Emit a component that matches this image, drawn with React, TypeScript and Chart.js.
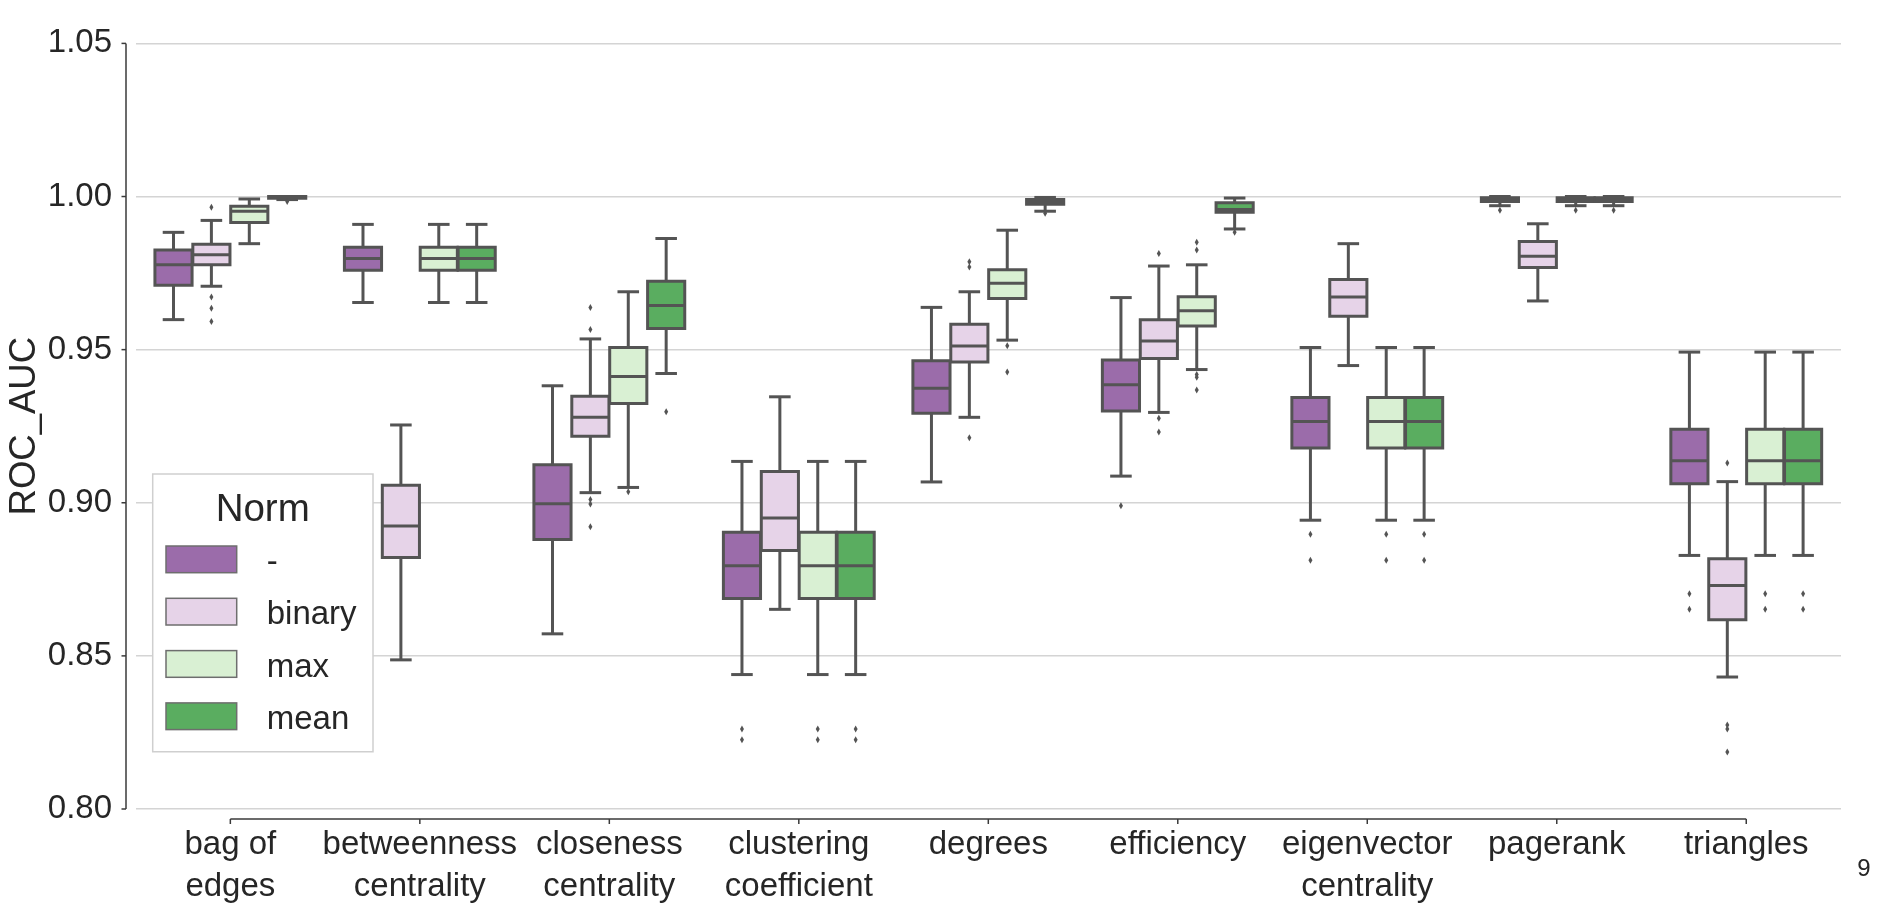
import React, { useEffect, useRef } from "react";
import { Chart, registerables } from "chart.js";

Chart.register(...registerables);

// ---------------- data ----------------
const categories: (string | string[])[] = [
  ["bag of", "edges"],
  ["betweenness", "centrality"],
  ["closeness", "centrality"],
  ["clustering", "coefficient"],
  "degrees",
  "efficiency",
  ["eigenvector", "centrality"],
  "pagerank",
  "triangles",
];

const hueLevels = ["-", "binary", "max", "mean"];

const yTicks = [0.8, 0.85, 0.9, 0.95, 1.0, 1.05];

// [whiskerLow, q1, median, q3, whiskerHigh] per category
const noneBoxes = [
  [0.9598, 0.971, 0.9777, 0.9825, 0.9883],
  [0.9654, 0.9759, 0.9798, 0.9834, 0.9909],
  [0.8572, 0.888, 0.8997, 0.9124, 0.9382],
  [0.8439, 0.8687, 0.8794, 0.8904, 0.9135],
  [0.9068, 0.9292, 0.9374, 0.9464, 0.9638],
  [0.9087, 0.93, 0.9385, 0.9466, 0.967],
  [0.8943, 0.9179, 0.9265, 0.9344, 0.9507],
  [0.997, 0.9984, 0.9992, 0.9996, 1.0],
  [0.8828, 0.9062, 0.9137, 0.924, 0.9492],
];
const binaryBoxes = [
  [0.9707, 0.9777, 0.981, 0.9844, 0.9922],
  [0.8487, 0.8821, 0.8924, 0.9057, 0.9254],
  [0.9033, 0.9217, 0.9279, 0.9348, 0.9535],
  [0.8652, 0.8844, 0.895, 0.9102, 0.9346],
  [0.9279, 0.946, 0.9512, 0.9583, 0.9689],
  [0.9295, 0.9471, 0.9528, 0.9598, 0.9773],
  [0.9448, 0.9609, 0.9672, 0.9729, 0.9846],
  [0.9659, 0.9768, 0.9805, 0.9853, 0.9911],
  [0.8431, 0.8618, 0.873, 0.8817, 0.9069],
];
const maxBoxes = [
  [0.9846, 0.9915, 0.9952, 0.9968, 0.9992],
  [0.9654, 0.9759, 0.9798, 0.9834, 0.9909],
  [0.905, 0.9324, 0.9412, 0.9507, 0.9689],
  [0.8439, 0.8687, 0.8794, 0.8904, 0.9135],
  [0.9531, 0.9667, 0.9717, 0.9761, 0.989],
  [0.9435, 0.9577, 0.9627, 0.9673, 0.9777],
  [0.8943, 0.9179, 0.9265, 0.9344, 0.9507],
  [0.997, 0.9984, 0.9992, 0.9996, 1.0],
  [0.8828, 0.9062, 0.9137, 0.924, 0.9492],
];
const meanBoxes = [
  [0.999, 0.9994, 0.9998, 1.0, 1.0],
  [0.9654, 0.9759, 0.9798, 0.9834, 0.9909],
  [0.9422, 0.9569, 0.9644, 0.9723, 0.9863],
  [0.8439, 0.8687, 0.8794, 0.8904, 0.9135],
  [0.9952, 0.9975, 0.9983, 0.999, 0.9997],
  [0.9894, 0.9949, 0.9958, 0.998, 0.9995],
  [0.8943, 0.9179, 0.9265, 0.9344, 0.9507],
  [0.997, 0.9984, 0.9992, 0.9996, 1.0],
  [0.8828, 0.9062, 0.9137, 0.924, 0.9492],
];

const noneOutliers = [
  [], [], [], [0.8261, 0.8226], [], [0.899], [0.8897, 0.8812], [0.9955], [0.8703, 0.8652],
];
const binaryOutliers = [
  [0.9965, 0.9672, 0.9635, 0.9592],
  [],
  [0.9638, 0.9566, 0.9011, 0.8996, 0.8922],
  [],
  [0.9787, 0.977, 0.9212],
  [0.9814, 0.9276, 0.9231],
  [],
  [],
  [0.913, 0.8274, 0.8261, 0.8186],
];
const maxOutliers = [
  [], [], [0.9036], [0.8261, 0.8226], [0.9513, 0.9427],
  [0.9851, 0.9825, 0.9419, 0.941, 0.9368], [0.8897, 0.8812], [0.9955], [0.8703, 0.8652],
];
const meanOutliers = [
  [0.9984], [], [0.9297], [0.8261, 0.8226], [0.9945], [0.9883], [0.8897, 0.8812], [0.9955], [0.8703, 0.8652],
];

// ---------------- styles ----------------
const hueColors = ["#9b6caa", "#e6d3e8", "#d9f0d3", "#5aad60"];
const EDGE = "#545454";
const TEXT = "#262626";
const FONT = "'Liberation Sans', Arial, sans-serif";

const allBoxes = [noneBoxes, binaryBoxes, maxBoxes, meanBoxes];
const allOutliers = [noneOutliers, binaryOutliers, maxOutliers, meanOutliers];

const boxPlugin = {
  id: "boxDetails",
  afterDatasetsDraw(chart: any) {
    const ctx = chart.ctx;
    const ys = chart.scales.y;
    ctx.save();
    ctx.strokeStyle = EDGE;
    ctx.fillStyle = EDGE;
    ctx.lineWidth = 3;
    ctx.lineCap = "butt";
    ctx.lineJoin = "miter";
    const line = (x1: number, y1: number, x2: number, y2: number) => {
      ctx.beginPath();
      ctx.moveTo(x1, y1);
      ctx.lineTo(x2, y2);
      ctx.stroke();
    };
    chart.data.datasets.forEach((_ds: any, di: number) => {
      const meta = chart.getDatasetMeta(di);
      const boxes = allBoxes[di];
      const outs = allOutliers[di];
      meta.data.forEach((el: any, ci: number) => {
        const x = el.x;
        const w = el.width;
        const [lo, q1, med, q3, hi] = boxes[ci].map((v: number) => ys.getPixelForValue(v));
        // whiskers
        line(x, q3, x, hi);
        line(x, q1, x, lo);
        const half = w * 0.25 + 1.5;
        line(x - half, hi, x + half, hi);
        line(x - half, lo, x + half, lo);
        // box outline
        ctx.beginPath();
        ctx.rect(x - w / 2, q3, w, q1 - q3);
        ctx.stroke();
        // median
        line(x - w / 2, med, x + w / 2, med);
        // outliers (thin diamonds)
        outs[ci].forEach((v: number) => {
          const py = ys.getPixelForValue(v);
          ctx.beginPath();
          ctx.moveTo(x, py - 3.5);
          ctx.lineTo(x + 2, py);
          ctx.lineTo(x, py + 3.5);
          ctx.lineTo(x - 2, py);
          ctx.closePath();
          ctx.fill();
        });
      });
    });
    ctx.restore();
  },
};

const spinePlugin = {
  id: "spines",
  afterDraw(chart: any) {
    const ctx = chart.ctx;
    const ys = chart.scales.y;
    const xs = chart.scales.x;
    const area = chart.chartArea;
    ctx.save();
    ctx.strokeStyle = "#3a3a3a";
    ctx.lineWidth = 1.5;
    // y spine (offset)
    const sx = area.left - 9.6;
    ctx.beginPath();
    ctx.moveTo(sx, ys.getPixelForValue(yTicks[yTicks.length - 1]));
    ctx.lineTo(sx, ys.getPixelForValue(yTicks[0]));
    ctx.stroke();
    yTicks.forEach((v) => {
      const py = ys.getPixelForValue(v);
      ctx.beginPath();
      ctx.moveTo(sx - 4.5, py);
      ctx.lineTo(sx, py);
      ctx.stroke();
    });
    // x spine (offset, trimmed)
    const sy = area.bottom + 10;
    const x0 = xs.getPixelForValue(0);
    const x1 = xs.getPixelForValue(categories.length - 1);
    ctx.beginPath();
    ctx.moveTo(x0, sy);
    ctx.lineTo(x1, sy);
    ctx.stroke();
    categories.forEach((_c, i) => {
      const px = xs.getPixelForValue(i);
      ctx.beginPath();
      ctx.moveTo(px, sy);
      ctx.lineTo(px, sy + 5);
      ctx.stroke();
    });
    ctx.restore();
  },
};

const legendPlugin = {
  id: "normLegend",
  afterDraw(chart: any) {
    const ctx = chart.ctx;
    ctx.save();
    // frame
    const fx = 152.7, fy = 474, fw = 220.3, fh = 277.7;
    ctx.fillStyle = "#ffffff";
    ctx.strokeStyle = "#cfcfcf";
    ctx.lineWidth = 1.5;
    ctx.beginPath();
    ctx.rect(fx, fy, fw, fh);
    ctx.fill();
    ctx.stroke();
    // title
    ctx.fillStyle = TEXT;
    ctx.font = `38.5px ${FONT}`;
    ctx.textAlign = "center";
    ctx.textBaseline = "alphabetic";
    ctx.fillText("Norm", 262.7, 520.7);
    // entries
    ctx.font = `33px ${FONT}`;
    ctx.textAlign = "left";
    chart.data.datasets.forEach((ds: any, i: number) => {
      const top = 546 + i * 52.3;
      ctx.fillStyle = ds.backgroundColor;
      ctx.fillRect(166, top, 70.7, 26.7);
      ctx.strokeStyle = "#6e6e6e";
      ctx.lineWidth = 1.5;
      ctx.strokeRect(166, top, 70.7, 26.7);
      ctx.fillStyle = TEXT;
      ctx.fillText(ds.label, 266.7, top + 13.35 + 12.8);
    });
    // stray page number at the right edge
    ctx.font = `24px ${FONT}`;
    ctx.fillStyle = TEXT;
    ctx.textAlign = "center";
    ctx.fillText("9", 1864, 876);
    ctx.restore();
  },
};

export default function App() {
  const canvasRef = useRef<HTMLCanvasElement | null>(null);

  useEffect(() => {
    document.body.style.margin = "0";
    const canvas = canvasRef.current;
    if (!canvas) return;
    const chart = new Chart(canvas, {
      type: "bar",
      data: {
        labels: categories as any,
        datasets: hueLevels.map((h, i) => ({
          label: h,
          data: allBoxes[i].map((b) => [b[1], b[3]]) as any,
          backgroundColor: hueColors[i],
          borderWidth: 0,
          barPercentage: 0.98,
          categoryPercentage: 0.8,
        })),
      },
      options: {
        responsive: false,
        animation: false,
        devicePixelRatio: 1,
        layout: { padding: { left: 0, right: 37, top: 27, bottom: 0 } },
        plugins: {
          legend: { display: false },
          tooltip: { enabled: false },
        },
        scales: {
          x: {
            type: "category",
            offset: true,
            grid: { display: false, drawTicks: false },
            border: { display: false },
            ticks: {
              autoSkip: false,
              maxRotation: 0,
              minRotation: 0,
              padding: 15.3,
              color: TEXT,
              font: { family: FONT, size: 33, lineHeight: 1.27 },
            },
            afterFit: (s: any) => {
              s.height = 94;
            },
          },
          y: {
            type: "linear",
            min: 0.8,
            max: 1.05,
            grid: { color: "#d4d4d4", lineWidth: 1.6, drawTicks: false },
            border: { display: false },
            afterBuildTicks: (s: any) => {
              s.ticks = yTicks.map((v) => ({ value: v }));
            },
            ticks: {
              padding: 23.6,
              color: TEXT,
              font: { family: FONT, size: 33, lineHeight: 1.2 },
              callback: (v: any) => Number(v).toFixed(2),
            },
            title: {
              display: true,
              text: "ROC_AUC",
              color: TEXT,
              font: { family: FONT, size: 36.5, lineHeight: 1.2 },
              padding: { top: 3, bottom: 0 },
            },
            afterFit: (s: any) => {
              s.width = 135.6;
            },
          },
        },
      } as any,
      plugins: [boxPlugin, spinePlugin, legendPlugin],
    });
    return () => chart.destroy();
  }, []);

  return (
    <div style={{ width: 1878, height: 903, background: "#ffffff" }}>
      <canvas ref={canvasRef} width={1878} height={903} style={{ display: "block" }} />
    </div>
  );
}
